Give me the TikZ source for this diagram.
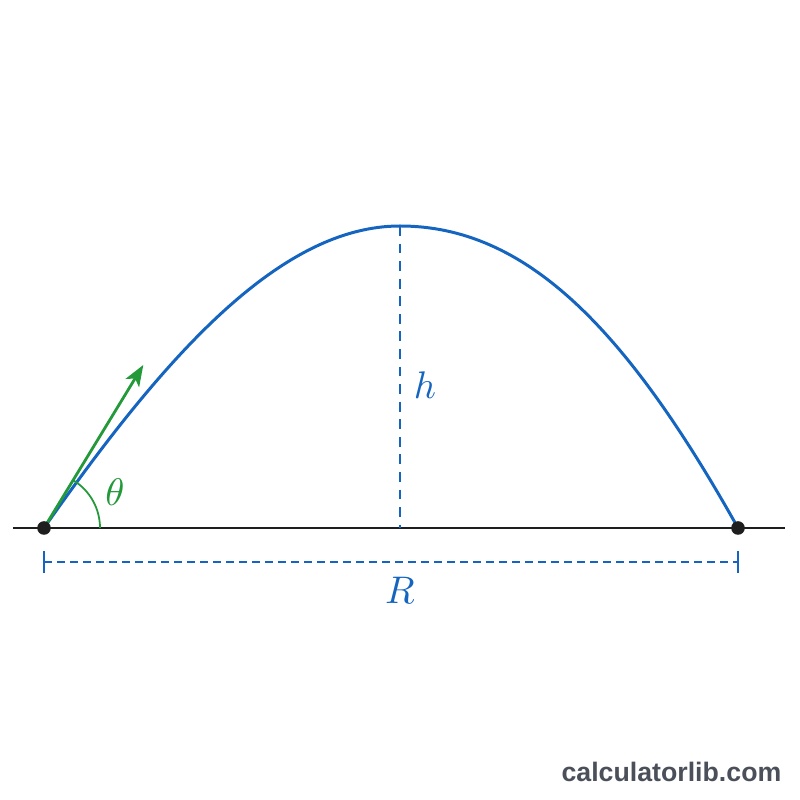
\documentclass[tikz,border=0pt]{standalone}
\usepackage{fontspec}
\newfontfamily\brandfont{Liberation Sans}
\usetikzlibrary{arrows.meta}
\definecolor{pathblue}{HTML}{1565C0}
\definecolor{launchgreen}{HTML}{23993A}
\definecolor{brandgray}{HTML}{4A4F5A}
\definecolor{dotblack}{HTML}{1E1E1E}

\begin{document}
\begin{tikzpicture}%
    [scale = 1,
     lab/.style = {font=\fontsize{11}{13}\selectfont, inner sep=1pt}]
    \useasboundingbox (-0.44,-2.72) rectangle (7.56,5.28);

    \coordinate (gl) at (-0.31,0);
    \coordinate (gr) at (7.41,0);
    \coordinate (O) at (0,0);
    \coordinate (L) at (6.94,0);
    \coordinate (P) at (3.56,3.02);
    \coordinate (F) at (3.56,0);
    \coordinate (V) at (0.993,1.63);
    \coordinate (Ra) at (0,-0.34);
    \coordinate (Rb) at (6.94,-0.34);

    \draw [line width = 0.8pt, dotblack] (gl) -- (gr);

    \draw [pathblue, line width = 0.85pt] (O) .. controls (1.205,1.72) and (2.36,3.02) .. (P)
        .. controls (4.81,3.02) and (5.813,2.013) .. (L);

    \draw [pathblue, line width = 0.5pt, dash pattern=on 2.8pt off 2.2pt] (P) -- (F);
    \node [lab, pathblue] (hlab) at (3.81,1.43) {$h$};

    \draw [-{Stealth[length=6pt, width=4.5pt, inset=1.5pt]}, launchgreen, line width = 0.8pt] (O) -- (V);
    \draw [launchgreen, line width = 0.5pt] (0.56,0) arc[start angle=0, end angle=58, radius=0.56];
    \node [lab, launchgreen] (thlab) at (0.71,0.36) {$\theta$};

    \fill [dotblack] (O) circle (0.068);
    \fill [dotblack] (L) circle (0.068);

    \draw [pathblue, line width = 0.5pt, dash pattern=on 2.2pt off 1.5pt] (Ra) -- (Rb);
    \draw [pathblue, line width = 0.5pt] ([yshift=-0.11cm]Ra) -- ([yshift=0.11cm]Ra);
    \draw [pathblue, line width = 0.5pt] ([yshift=-0.11cm]Rb) -- ([yshift=0.11cm]Rb);
    \node [lab, pathblue] (Rlab) at (3.56,-0.62) {$R$};

    \node [anchor=east, inner sep=0pt, brandgray, font=\brandfont\bfseries\fontsize{7.6}{9}\selectfont] (brand) at (7.38,-2.435) {calculatorlib.com};
\end{tikzpicture}
\end{document}
